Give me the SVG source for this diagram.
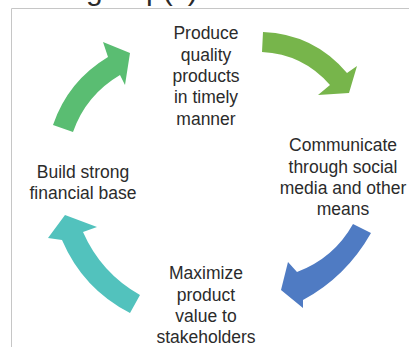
<svg xmlns="http://www.w3.org/2000/svg" width="409" height="347" viewBox="0 0 409 347">
<style>
.lbl{font-family:"Liberation Sans",Arial,sans-serif;font-size:17.5px;fill:#2b2b2b;text-anchor:middle}
.frame{stroke:#c6c6c6;stroke-width:1;fill:none}
</style>
<rect width="409" height="347" fill="#ffffff"/>
<text x="86" y="0" style="font-family:'Liberation Sans',Arial,sans-serif;font-size:30px;fill:#2b2b2b">group(s)</text>
<path class="frame" d="M11.5,347 V8.5 H409"/>
<g id="connectors">
<path id="arrow-top-right" fill="#77b54b" d="M263,32 Q314,34 347,73 L357,66 L349,93 L318,95 L330,85 Q303,54 262,52 Z"/>
<path id="arrow-bottom-right" fill="#4f7bc3" d="M353,224 L371,233 Q346,277 303,300 L303,308 L281,290 L288,262 L297,272 Q334,258 353,224 Z"/>
<path id="arrow-bottom-left" fill="#52c2bd" d="M140,295 L130,313 Q83,289 62,240 L48,238 L65,215 L97,227 L83,232 Q101,273 140,295 Z"/>
<path id="arrow-left" fill="#5abd72" d="M53,125 Q68,81 108,57 L103,42 L130,53 L125,85 L120,75 Q86,95 73,132 Z"/>
</g>
<g id="node-produce">
<text class="lbl" x="206" y="39">Produce</text>
<text class="lbl" x="206" y="60.5">quality</text>
<text class="lbl" x="206" y="82">products</text>
<text class="lbl" x="206" y="103">in timely</text>
<text class="lbl" x="206" y="124.5">manner</text>
</g>
<g id="node-communicate">
<text class="lbl" x="343" y="151">Communicate</text>
<text class="lbl" x="343" y="172.5">through social</text>
<text class="lbl" x="343" y="194">media and other</text>
<text class="lbl" x="343" y="215">means</text>
</g>
<g id="node-maximize">
<text class="lbl" x="206" y="279">Maximize</text>
<text class="lbl" x="206" y="300.5">product</text>
<text class="lbl" x="206" y="322">value to</text>
<text class="lbl" x="206" y="343">stakeholders</text>
</g>
<g id="node-build">
<text class="lbl" x="83" y="178">Build strong</text>
<text class="lbl" x="83" y="199">financial base</text>
</g>
</svg>
